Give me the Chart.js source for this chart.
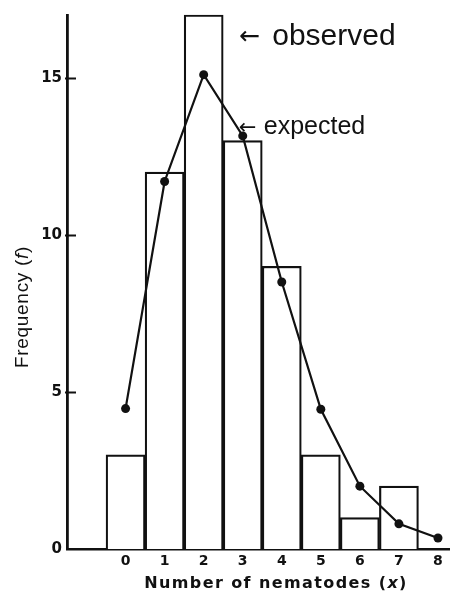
<!DOCTYPE html>
<html>
<head>
<meta charset="utf-8">
<script src="https://cdn.jsdelivr.net/npm/chart.js@4/dist/chart.umd.min.js"></script>
<style>
  html, body { margin: 0; padding: 0; background: #fff; overflow: hidden; }
  #wrap { position: absolute; left: 0; top: 0; width: 462px; height: 592px; }
</style>
</head>
<body>
<div id="wrap"><canvas id="chart" width="462" height="592"></canvas></div>
<script>
// Number of nematodes per sample; the first slot is an empty gap left of 0
const categories = ['', '0', '1', '2', '3', '4', '5', '6', '7', '8'];
// Observed frequencies (histogram bars)
const observed = [null, 3, 12, 17, 13, 9, 3, 1, 2, 0];
// Expected frequencies (curve with dots)
const expected = [null, 4.47, 11.7, 15.1, 13.15, 8.5, 4.45, 2.0, 0.8, 0.35];
// Frequency axis ticks
const yTicks = [0, 5, 10, 15];
const yMax = 17;

const INK = '#111';

const decorations = {
  id: 'decorations',
  afterDatasetsDraw(chart) {
    const { ctx, chartArea, scales } = chart;
    const x = scales.x, y = scales.y;
    ctx.save();

    // short inward tick marks on the frequency axis
    ctx.strokeStyle = INK;
    ctx.lineWidth = 2;
    yTicks.filter(v => v > 0).forEach(v => {
      const py = Math.round(y.getPixelForValue(v)) + 0.5;
      ctx.beginPath();
      ctx.moveTo(chartArea.left - 2, py);
      ctx.lineTo(chartArea.left + 9, py);
      ctx.stroke();
    });

    ctx.fillStyle = INK;
    ctx.textBaseline = 'alphabetic';

    // "← observed" next to the tallest bar
    const barRight = x.getPixelForValue(3) + (x.getPixelForValue(4) - x.getPixelForValue(3)) / 2;
    const obsY = y.getPixelForValue(16.35);
    ctx.font = '25px "DejaVu Sans"';
    ctx.textAlign = 'left';
    ctx.fillText('\u2190', barRight + 16, obsY + 9);
    ctx.font = '30px "Liberation Sans"';
    ctx.fillText('observed', barRight + 49, obsY + 10);

    // "← expected" next to the expected point at x = 3
    const ex = x.getPixelForValue(4);
    const ey = y.getPixelForValue(expected[4]);
    ctx.font = '21px "DejaVu Sans"';
    ctx.fillText('\u2190', ex - 4, ey - 2);
    ctx.font = '25px "Liberation Sans"';
    ctx.fillText('expected', ex + 21, ey - 2);

    // x axis title with italic x
    const xParts = [
      { t: 'Number of nematodes (', f: 'bold 16px "DejaVu Sans"' },
      { t: 'x', f: 'italic bold 16px "DejaVu Sans"' },
      { t: ')', f: 'bold 16px "DejaVu Sans"' }
    ];
    if ('letterSpacing' in ctx) ctx.letterSpacing = '1.4px';
    let total = 0;
    xParts.forEach(p => { ctx.font = p.f; p.w = ctx.measureText(p.t).width; total += p.w; });
    let cx = 276 - total / 2;
    ctx.textBaseline = 'middle';
    xParts.forEach(p => { ctx.font = p.f; ctx.fillText(p.t, cx, 584); cx += p.w; });

    // y axis title with italic f
    const yParts = [
      { t: 'Frequency (', f: '19px "Liberation Sans"' },
      { t: 'f', f: 'italic 19px "Liberation Sans"' },
      { t: ')', f: '19px "Liberation Sans"' }
    ];
    if ('letterSpacing' in ctx) ctx.letterSpacing = '0.7px';
    total = 0;
    yParts.forEach(p => { ctx.font = p.f; p.w = ctx.measureText(p.t).width; total += p.w; });
    ctx.translate(23, 307);
    ctx.rotate(-Math.PI / 2);
    cx = -total / 2;
    yParts.forEach(p => { ctx.font = p.f; ctx.fillText(p.t, cx, 0); cx += p.w; });

    ctx.restore();
  }
};

new Chart(document.getElementById('chart'), {
  data: {
    labels: categories,
    datasets: [
      {
        type: 'line',
        label: 'expected',
        data: expected,
        order: 0,
        borderColor: INK,
        borderWidth: 2.2,
        tension: 0,
        pointRadius: 4.5,
        pointBackgroundColor: INK,
        pointBorderColor: INK,
        pointBorderWidth: 0,
        clip: false,
        spanGaps: false
      },
      {
        type: 'bar',
        label: 'observed',
        data: observed,
        order: 1,
        backgroundColor: '#fff',
        borderColor: INK,
        borderWidth: 2.2,
        borderSkipped: 'bottom',
        barPercentage: 1,
        categoryPercentage: 1,
        clip: false
      }
    ]
  },
  options: {
    responsive: false,
    animation: false,
    events: [],
    layout: { padding: { top: 15, right: 1, left: 0, bottom: 0 } },
    plugins: { legend: { display: false }, tooltip: { enabled: false } },
    scales: {
      x: {
        type: 'category',
        offset: true,
        grid: { display: false, drawTicks: false },
        border: { display: true, color: INK, width: 2.5 },
        ticks: {
          color: INK,
          padding: 4,
          maxRotation: 0,
          autoSkip: false,
          font: { family: 'DejaVu Sans', weight: 'bold', size: 14 }
        },
        afterFit(scale) { scale.height = 43; }
      },
      y: {
        type: 'linear',
        min: 0,
        max: yMax,
        grid: { display: false, drawTicks: false },
        border: { display: true, color: INK, width: 2.8 },
        ticks: {
          stepSize: 5,
          includeBounds: false,
          color: INK,
          padding: 5,
          font: { family: 'DejaVu Sans', weight: 'bold', size: 15 }
        },
        afterBuildTicks(scale) {
          scale.ticks = yTicks.map(v => ({ value: v }));
        },
        afterFit(scale) { scale.width = 67; }
      }
    }
  },
  plugins: [decorations]
});
</script>
</body>
</html>
